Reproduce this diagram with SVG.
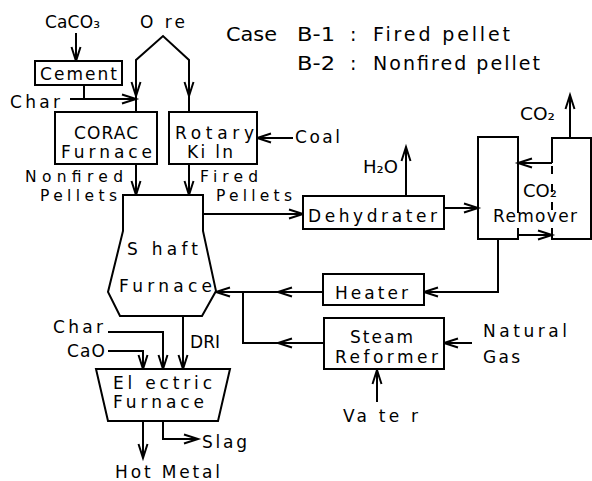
<svg xmlns="http://www.w3.org/2000/svg" width="592" height="481" viewBox="0 0 592 481">
<style>
.t{font-family:"DejaVu Sans","Liberation Sans",sans-serif;font-size:17px;fill:#000}
.s{font-size:15.5px}
.c{font-family:"DejaVu Sans","Liberation Sans",sans-serif;font-size:19px;fill:#000}
.b{fill:#fff;stroke:#000;stroke-width:2}
.ln{fill:none;stroke:#000;stroke-width:2}
.a{fill:none;stroke:#000;stroke-width:2;marker-end:url(#ah)}
</style>
<defs>
<marker id="ah" viewBox="0 0 14 10" refX="14" refY="5" markerWidth="14" markerHeight="10" markerUnits="userSpaceOnUse" orient="auto" overflow="visible">
<path d="M0,0.5 L14,5 L0,9.5" fill="none" stroke="#000" stroke-width="2"/>
</marker>
</defs>
<rect width="592" height="481" fill="#fff"/>

<g id="connectors">
<path class="a" d="M76,33 V61"/>
<path class="ln" d="M84,85 V99"/>
<path class="a" d="M70,99 H136"/>
<path class="ln" d="M136,112 V60 L163,36 L189,60 V112"/>
<path class="a" d="M136,80 V96"/>
<path class="a" d="M189,80 V96"/>
<path class="a" d="M136,164 V195"/>
<path class="a" d="M189,164 V195"/>
<path class="a" d="M293,138 H257"/>
<path class="a" d="M203,214 H303"/>
<path class="a" d="M406,196 V147"/>
<path class="a" d="M444,208 H478"/>
<path class="a" d="M570,138 V95"/>
<path class="a" d="M552,163 H518"/>
<path class="a" d="M518,235 H552"/>
<path class="a" d="M498,240 V292 H424"/>
<path class="a" d="M323,292 H216"/>
<path class="a" d="M300,292 H278"/>
<path class="ln" d="M243,292 V343 H323"/>
<path class="a" d="M300,343 H278"/>
<path class="a" d="M472,343 H444"/>
<path class="a" d="M377,402 V370"/>
<path class="a" d="M108,332 H163 V369"/>
<path class="a" d="M108,351 H143 V369"/>
<path class="a" d="M183,317 V369"/>
<path class="a" d="M143,421 V458"/>
<path class="a" d="M163,421 V439 H198"/>
</g>

<g id="legend">
<text class="c" x="226" y="41" textLength="51" lengthAdjust="spacingAndGlyphs">Case</text>
<text class="c" x="297" y="41" textLength="38" lengthAdjust="spacingAndGlyphs">B-1</text>
<text class="c" x="350" y="41">:</text>
<text class="c" x="373" y="41" textLength="137" lengthAdjust="spacing">Fired pellet</text>
<text class="c" x="297" y="70" textLength="38" lengthAdjust="spacingAndGlyphs">B-2</text>
<text class="c" x="350" y="70">:</text>
<text class="c" x="373" y="70" textLength="167" lengthAdjust="spacing">Nonfired pellet</text>
</g>

<g id="inputs">
<text class="t" x="45" y="28" textLength="55" lengthAdjust="spacing">CaCO₃</text>
<text class="t" x="140" y="28" textLength="45" lengthAdjust="spacing">O re</text>
<text class="t" x="10" y="108" textLength="50" lengthAdjust="spacing">Char</text>
<text class="t" x="295" y="143" textLength="45" lengthAdjust="spacing">Coal</text>
<text class="t s" x="25" y="182" textLength="98" lengthAdjust="spacing">Nonfired</text>
<text class="t s" x="40" y="201" textLength="77" lengthAdjust="spacing">Pellets</text>
<text class="t s" x="200" y="182" textLength="58" lengthAdjust="spacing">Fired</text>
<text class="t s" x="216" y="201" textLength="76" lengthAdjust="spacing">Pellets</text>
<text class="t" x="363" y="173" textLength="35" lengthAdjust="spacingAndGlyphs">H₂O</text>
<text class="t" x="520" y="120" textLength="35" lengthAdjust="spacingAndGlyphs">CO₂</text>
<text class="t" x="483" y="337" textLength="84" lengthAdjust="spacing">Natural</text>
<text class="t" x="483" y="363" textLength="37" lengthAdjust="spacing">Gas</text>
<text class="t" x="343" y="422" textLength="75" lengthAdjust="spacing">Va te r</text>
<text class="t" x="53" y="333" textLength="50" lengthAdjust="spacing">Char</text>
<text class="t" x="67" y="357" textLength="38" lengthAdjust="spacing">CaO</text>
<text class="t" x="190" y="348" textLength="30" lengthAdjust="spacing">DRI</text>
<text class="t" x="202" y="448" textLength="45" lengthAdjust="spacing">Slag</text>
<text class="t" x="115" y="478" textLength="105" lengthAdjust="spacing">Hot Metal</text>
</g>

<g id="cement">
<rect class="b" x="35" y="61" width="87" height="24"/>
<text class="t" x="40" y="80" textLength="77" lengthAdjust="spacing">Cement</text>
</g>

<g id="corac">
<rect class="b" x="55" y="112" width="102" height="52"/>
<text class="t" x="74" y="139" textLength="64" lengthAdjust="spacing">CORAC</text>
<text class="t" x="61" y="158" textLength="91" lengthAdjust="spacing">Furnace</text>
</g>

<g id="rotary">
<rect class="b" x="169" y="112" width="88" height="52"/>
<text class="t" x="175" y="139" textLength="79" lengthAdjust="spacing">Rotary</text>
<text class="t" x="187" y="158" textLength="46" lengthAdjust="spacing">Ki ln</text>
</g>

<g id="shaft">
<polygon class="b" points="123,195 203,195 203,231 216,291 202,316 120,316 108,292 123,231"/>
<text class="t" x="127" y="255" textLength="71" lengthAdjust="spacing">S haft</text>
<text class="t" x="119" y="292" textLength="93" lengthAdjust="spacing">Furnace</text>
</g>

<g id="dehydrater">
<rect class="b" x="303" y="196" width="141" height="33"/>
<text class="t" x="308" y="222" textLength="129" lengthAdjust="spacing">Dehydrater</text>
</g>

<g id="remover">
<path class="ln" d="M518,213 V137 H478 V239 H518 V228"/>
<path class="ln" d="M552,163 V138 H591 V239 H552 V228"/>
<path class="ln" d="M552,166 V212" stroke-dasharray="8 10"/>
<text class="t" x="523" y="197" textLength="34" lengthAdjust="spacingAndGlyphs">CO₂</text>
<text class="t" x="493" y="222" textLength="84" lengthAdjust="spacing">Remover</text>
</g>

<g id="heater">
<rect class="b" x="323" y="274" width="101" height="31"/>
<text class="t" x="335" y="299" textLength="73" lengthAdjust="spacing">Heater</text>
</g>

<g id="reformer">
<rect class="b" x="324" y="318" width="120" height="51"/>
<text class="t" x="350" y="343" textLength="63" lengthAdjust="spacing">Steam</text>
<text class="t" x="335" y="363" textLength="103" lengthAdjust="spacing">Reformer</text>
</g>

<g id="electric">
<polygon class="b" points="96,369 230,369 218,421 108,421"/>
<text class="t" x="113" y="389" textLength="99" lengthAdjust="spacing">El ectric</text>
<text class="t" x="113" y="408" textLength="91" lengthAdjust="spacing">Furnace</text>
</g>
</svg>
